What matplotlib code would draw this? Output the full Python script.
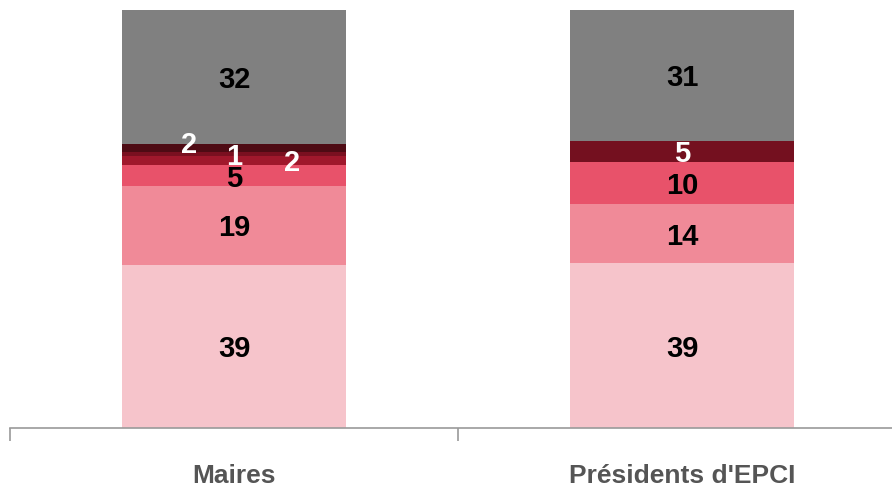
import matplotlib
matplotlib.use("Agg")
import matplotlib.pyplot as plt
import numpy as np

categories = ["Maires", "Présidents d'EPCI"]

# segments from bottom to top (estimated shares, labels shown rounded)
maires = [39, 19, 5, 2, 1, 2, 32]
maires_colors = ["#F6C4CB", "#F08A98", "#E8526A", "#A0182C", "#7A1020", "#4E0B14", "#808080"]
maires_text = ["black", "black", "black", "white", "white", "white", "black"]

epci = [39.4, 14.2, 10.1, 5.0, 31.3]
epci_colors = ["#F6C4CB", "#F08A98", "#E8526A", "#74101F", "#808080"]
epci_text = ["black", "black", "black", "white", "black"]

# label offsets (x, y) in data units for the crowded small segments
maires_offsets = [(0, 0), (0, 0), (0, -0.3), (0.13, 0), (0, 0), (-0.1, 1.5), (0, 0)]
epci_offsets = [(0, 0), (0, 0), (0, 0), (0, 0), (0, 0)]

plt.rcParams["font.family"] = ["Liberation Sans", "DejaVu Sans"]

fig = plt.figure(figsize=(8.92, 4.87), dpi=100)
ax = fig.add_axes([10 / 892, 59 / 487, 882 / 892, 418 / 487])

width = 0.498
for i, (vals, cols, tcols, offs) in enumerate([
        (maires, maires_colors, maires_text, maires_offsets),
        (epci, epci_colors, epci_text, epci_offsets)]):
    bottom = 0
    for v, c, tc, (dx, dy) in zip(vals, cols, tcols, offs):
        ax.bar(i, v, width, bottom=bottom, color=c, linewidth=0)
        ax.text(i + dx, bottom + v / 2 + dy, str(int(round(v))), ha="center",
                va="center_baseline", fontsize=21, fontweight="bold", color=tc)
        bottom += v

for s in ["top", "right", "left"]:
    ax.spines[s].set_visible(False)
ax.spines["bottom"].set_color("#9A9A9A")
ax.spines["bottom"].set_linewidth(1.2)

ax.set_yticks([])
ax.set_xticks([0, 1])
ax.set_xticklabels(categories, fontsize=19, fontweight="bold", color="#555555")
ax.tick_params(axis="x", which="major", length=0, pad=26)
ax.set_xticks([-0.5, 0.5, 1.5], minor=True)
ax.tick_params(axis="x", which="minor", length=9, width=1.2, color="#9A9A9A", direction="out")

ax.set_xlim(-0.5, 1.5 - 14 / 448)
ax.set_ylim(0, 100)

fig.savefig("out.png", dpi=100)
